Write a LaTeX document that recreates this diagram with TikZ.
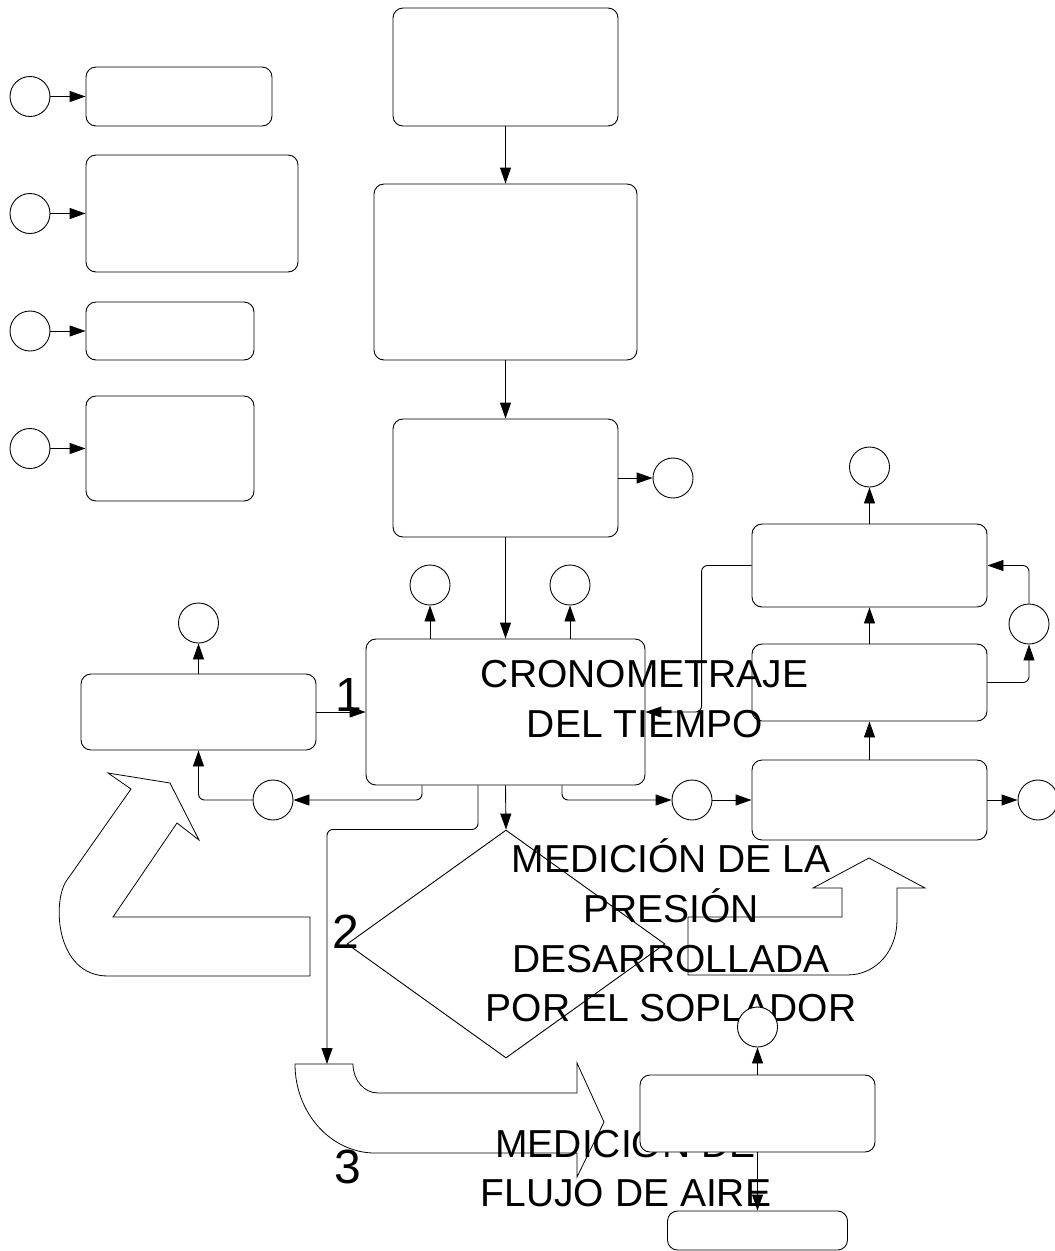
\documentclass[tikz,border=0pt]{standalone}
\usepackage{fontspec}
\setmainfont{Liberation Sans}
\usetikzlibrary{arrows.meta,shapes.geometric}
\begin{document}
\begin{tikzpicture}[x=1pt,y=-1pt,line width=0.9pt,
  box/.style={draw,rectangle,rounded corners=10pt,fill=white,inner sep=0pt},
  circ/.style={draw,circle,fill=white,minimum size=40pt,inner sep=0pt},
  arr/.style={-{Triangle[length=16pt,width=11pt]}},
  link/.style={arr,rounded corners=6pt},
  bigtext/.style={font=\fontsize{39}{47}\selectfont,inner sep=0pt,anchor=base},
  numtext/.style={font=\fontsize{48}{56}\selectfont,inner sep=0pt,anchor=base},
  blockarrow/.style={draw,line width=0.8pt,line join=miter}]
\useasboundingbox[fill=white] (0,0) rectangle (1055,1251);

% block arrows
\draw[blockarrow] (310,917) -- (113,917) -- (177,823) -- (199,840) -- (170,783)
  -- (108,773) -- (131,789) -- (67,880) .. controls (52,900) and (55,976) .. (108,976)
  -- (310,976) -- cycle;
\draw[blockarrow] (869,858) -- (925,888) -- (897,888) -- (897,920)
  .. controls (897,950) and (877,975) .. (847,975) -- (688,975) -- (688,917)
  -- (842,917) -- (842,888) -- (813,888) -- cycle;
\draw[blockarrow] (295,1064) -- (353,1064) .. controls (353,1080) and (364,1093) .. (378,1093)
  -- (577,1093) -- (577,1063) -- (604,1122) -- (577,1177) -- (577,1153) -- (375,1153)
  .. controls (331,1153) and (295,1113) .. (295,1064) -- cycle;
\coordinate (a3top) at (327,1064);

% left column
\node[circ] (c1) at (30,96.5) {};
\node[box,minimum width=186pt,minimum height=59pt] (a1) at (179,96.5) {};
\node[circ] (c2) at (30,213.5) {};
\node[box,minimum width=212pt,minimum height=117pt] (a2) at (192,213.5) {};
\node[circ] (c3) at (30,331) {};
\node[box,minimum width=168pt,minimum height=58pt] (a3) at (170,331) {};
\node[circ] (c4) at (30,448.5) {};
\node[box,minimum width=168pt,minimum height=105pt] (a4) at (170,448.5) {};
\draw[arr] (c1) -- (a1);
\draw[arr] (c2) -- (a2);
\draw[arr] (c3) -- (a3);
\draw[arr] (c4) -- (a4);

% centre column
\node[box,minimum width=225pt,minimum height=118pt] (b1) at (505.5,67) {};
\node[box,minimum width=263pt,minimum height=176pt] (b2) at (505.5,272) {};
\node[box,minimum width=225pt,minimum height=118pt] (b3) at (505.5,478) {};
\node[circ] (cb3) at (673,478) {};
\node[box,minimum width=279pt,minimum height=146pt] (c) at (505.5,712) {};
\node[circ] (cc1) at (430,585) {};
\node[circ] (cc2) at (570,585) {};
\draw[arr] (b1) -- (b2);
\draw[arr] (b2) -- (b3);
\draw[arr] (b3) -- (c);
\draw[arr] (b3) -- (cb3);
\draw[arr] (cc1 |- c.north) -- (cc1);
\draw[arr] (cc2 |- c.north) -- (cc2);

% left process
\node[box,minimum width=235pt,minimum height=76pt] (d) at (198.5,712) {};
\node[circ] (cd) at (198.5,623) {};
\node[circ] (cl) at (273,800) {};
\draw[arr] (d) -- (cd);
\draw[arr] (d.east) -- (d.east -| c.west);
\draw[link] ([xshift=-83.5pt]c.south) |- (cl);
\draw[link] (cl) -| (d.south);

% diamond
\node[draw,diamond,minimum width=318pt,minimum height=228pt,inner sep=0pt] (dia) at (506,944) {};
\draw[arr] (c.south) -- (dia.north);
\draw[link] ([xshift=-27.5pt]c.south) -- ++(0,44) -| (a3top);

% right column
\node[box,minimum width=235pt,minimum height=80pt] (e) at (869.5,800) {};
\node[box,minimum width=235pt,minimum height=77pt] (f) at (869.5,682.5) {};
\node[box,minimum width=235pt,minimum height=83pt] (g) at (869.5,565.5) {};
\node[circ] (cm) at (692,800) {};
\node[circ] (ce) at (1038,800) {};
\node[circ] (cg) at (869.5,467) {};
\node[circ] (cf) at (1029,624) {};
\draw[link] ([xshift=56.5pt]c.south) |- (cm);
\draw[arr] (cm) -- (e);
\draw[arr] (e) -- (ce);
\draw[arr] (e) -- (f);
\draw[arr] (f) -- (g);
\draw[arr] (g) -- (cg);
\draw[link] (f.east) -| (cf);
\draw[link] (cf) |- (g.east);
\draw[link] (g.west) -- ++(-50,0) |- (c.east);

% texts
\node[bigtext] (t1) at (644.5,687) {CRONOMETRAJE};
\node[bigtext] (t2) at (645,737) {DEL TIEMPO};
\node[bigtext] (t3) at (671,872) {MEDICIÓN DE LA};
\node[bigtext] (t4) at (671,922) {PRESIÓN};
\node[bigtext] (t5) at (671,972) {DESARROLLADA};
\node[bigtext] (t6) at (671,1021) {POR EL SOPLADOR};
\node[bigtext] (t7) at (625.5,1157) {MEDICION DE};
\node[bigtext] (t8) at (626,1206) {FLUJO DE AIRE};
\node[numtext] (n1) at (349,711) {1};
\node[numtext] (n2) at (346,948) {2};
\node[numtext] (n3) at (348,1183) {3};

% bottom boxes
\node[box,minimum width=235pt,minimum height=77pt] (h) at (757.5,1113.5) {};
\node[box,minimum width=180pt,minimum height=39pt] (i) at (757.5,1230.5) {};
\node[circ] (ch) at (757.5,1027) {};
\draw[arr] (h) -- (ch);
\draw[arr] (h) -- (i);
\end{tikzpicture}
\end{document}
